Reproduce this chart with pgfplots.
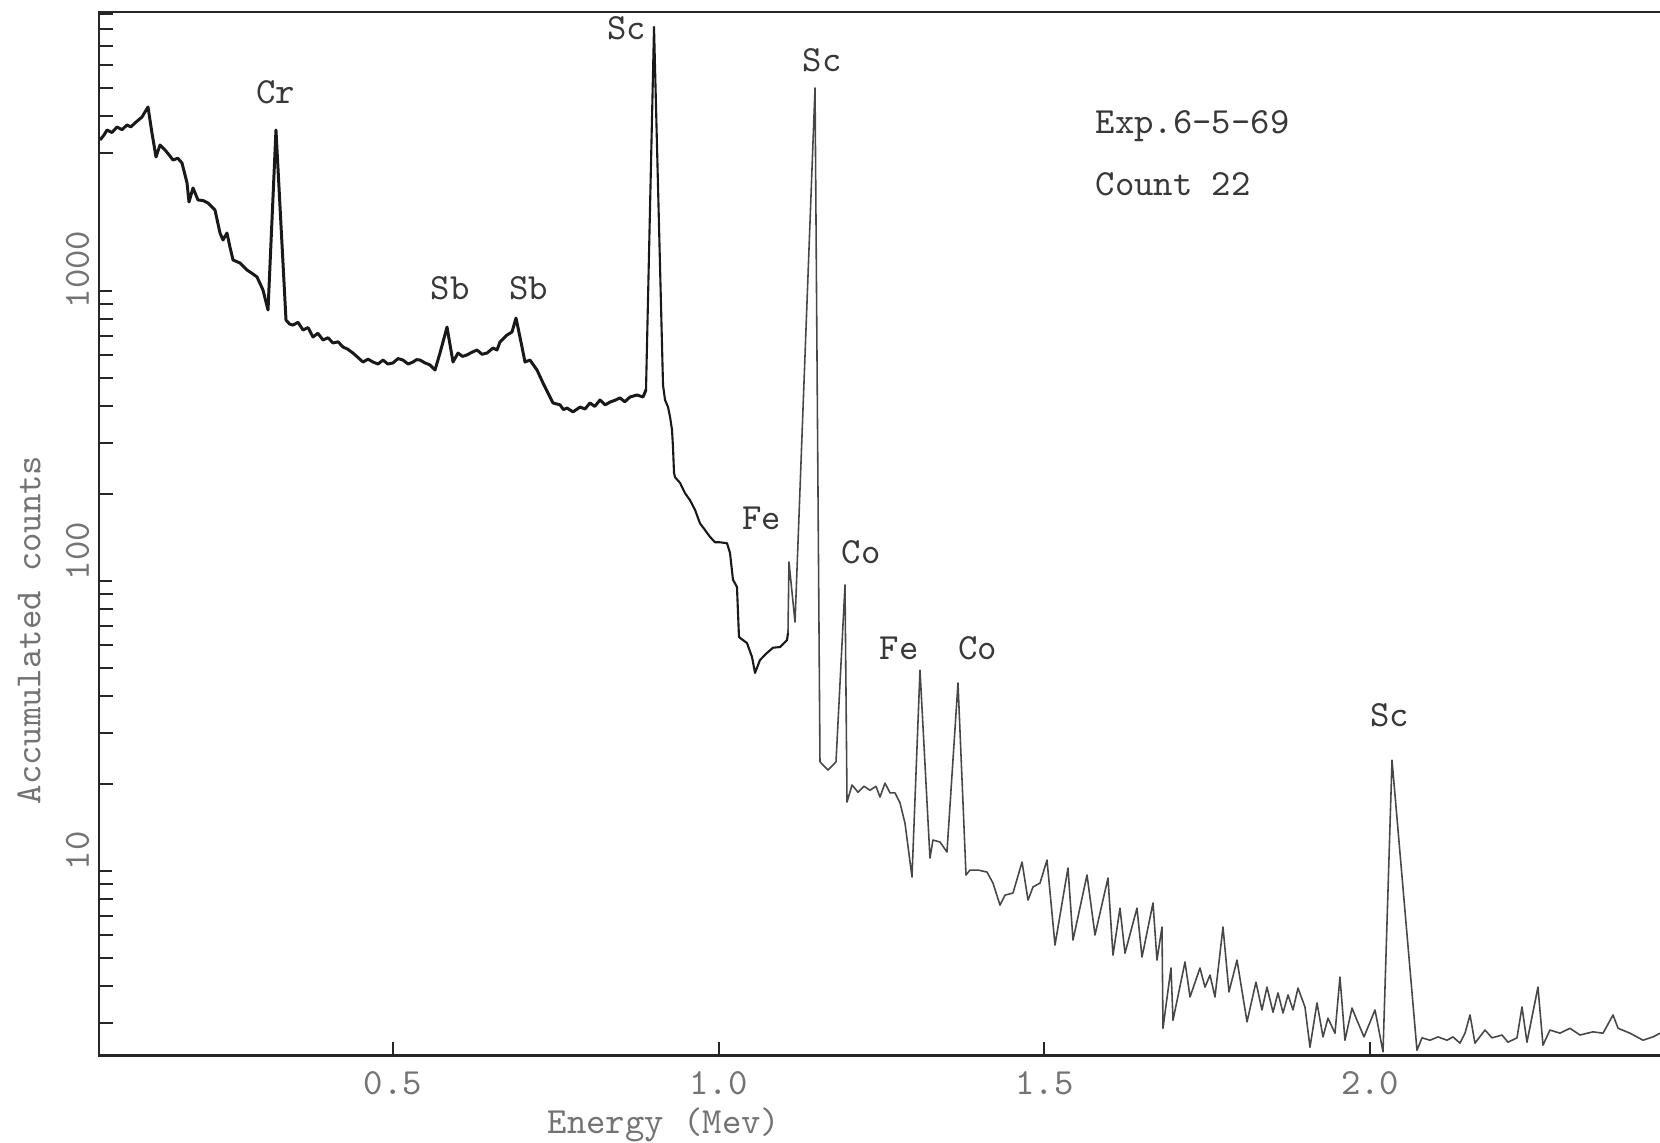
\documentclass[border=0pt]{standalone}
\usepackage{fontspec}
\usepackage{pgfplots}
\pgfplotsset{compat=1.18}

% typewriter face, as on the original plotter sheet
\newcommand\tw{\ttfamily\fontsize{10.5pt}{12pt}\selectfont}
\definecolor{ink}{gray}{0.15}
\definecolor{trace}{gray}{0.10}
\definecolor{labelgray}{gray}{0.45}
\definecolor{notegray}{gray}{0.22}
\tikzset{note/.style={font=\tw, text=notegray, inner sep=0pt, anchor=center}}

\begin{document}
\begin{tikzpicture}
\useasboundingbox (-9.9mm,-8.7mm) rectangle (156.1mm,105.5mm);
\begin{axis}[
  at={(0,0)}, anchor=south west,
  scale only axis, width=156.1mm, height=104.3mm,
  xmin=0.0491, xmax=2.4448,
  ymode=log, ymin=2.321, ymax=9162,
  axis line style={draw=none},
  xtick pos=bottom, ytick pos=left,
  tick align=inside,
  major tick length=1.3mm, minor tick length=1.4mm,
  tick style={line width=0.55pt, ink},
  xtick={0.5,1.0,1.5,2.0},
  xticklabels={0.5,1.0,1.5,2.0},
  ytick={10,100,1000},
  yticklabels={10,100,\hspace*{-1.8mm}1000},
  minor ytick={3,4,5,6,7,8,9,20,30,40,50,60,70,80,90,200,300,400,500,600,700,800,900,3000,4000,5000,6000,7000,8000,9000},
  xticklabel style={font=\tw, text=labelgray, anchor=north, inner sep=0pt},
  xticklabel shift=1.6mm,
  yticklabel style={font=\tw, text=labelgray, rotate=90, anchor=south west, inner sep=0pt},
  yticklabel shift=0.9mm,
  xlabel={Energy (Mev)},
  ylabel={Accumulated counts},
  xlabel style={font=\tw, text=labelgray, at={(rel axis cs:0.3619,-0.0671)}, anchor=center},
  ylabel style={font=\tw, text=labelgray, at={(rel axis cs:-0.0448,0.4075)}, anchor=center},
]

% low-energy part of the spectrum, drawn with the heavier pen
\addplot[line width=0.85pt, trace, line join=round, mark=none] table {
0.0506 3317
0.0568 3450
0.0614 3591
0.0690 3520
0.0767 3677
0.0845 3600
0.0921 3737
0.0980 3680
0.1043 3796
0.1151 3981
0.1243 4310
0.1304 3506
0.1366 2898
0.1427 3187
0.1504 3063
0.1565 2950
0.1627 2829
0.1700 2870
0.1765 2763
0.1842 2358
0.1872 2027
0.1934 2266
0.2010 2060
0.2090 2050
0.2164 2011
0.2271 1903
0.2348 1585
0.2394 1499
0.2455 1585
0.2501 1418
0.2548 1279
0.2655 1249
0.2762 1182
0.2840 1150
0.2916 1118
0.3008 1008
0.3085 860
0.3207 3591
0.3361 794
0.3415 770
0.3468 763
0.3545 780
0.3622 734
0.3700 748
0.3775 694
0.3850 715
0.3929 678
0.4005 690
0.4082 662
0.4160 668
0.4235 641
0.4310 630
0.4389 611
0.4465 590
0.4543 569
0.4620 582
0.4696 569
0.4773 560
0.4850 578
0.4925 560
0.5003 565
0.5080 585
0.5157 578
0.5235 560
0.5310 569
0.5365 580
0.5418 578
0.5495 565
0.5571 556
0.5648 534
0.5724 611
0.5832 751
0.5924 569
0.6001 611
0.6070 595
0.6139 602
0.6215 615
0.6292 626
0.6370 605
0.6446 611
0.6538 636
0.6599 626
0.6645 667
0.6753 705
0.6829 722
0.6891 807
0.6983 641
0.7029 569
0.7105 578
0.7213 534
0.7305 482
0.7382 445
0.7459 411
0.7566 405
0.7620 390
0.7673 395
0.7766 383
0.7873 398
0.7950 392
0.8026 411
0.8100 400
0.8180 421
0.8260 405
0.8333 414
0.8410 420
0.8487 428
0.8560 415
0.8640 431
0.8748 438
0.8840 431
0.8886 456
};

% first Sc line and the steep fall to the Fe region
\addplot[line width=0.6pt, trace, line join=round, mark=none] table {
0.8886 456
0.9009 8134
0.9147 474
0.9178 421
0.9224 398
0.9255 368
0.9285 332
0.9300 290
0.9316 236
0.9331 228
0.9408 218
0.9484 201
0.9561 190
0.9638 176
0.9715 158
0.9791 150
0.9868 142
0.9945 136
1.0021 136
1.0129 135
1.0175 125
1.0221 101
1.0282 95.4
1.0298 77.6
1.0313 64.1
1.0436 61.1
1.0513 54.7
1.0559 48.2
1.0635 53.4
1.0743 56.5
1.0835 58.9
1.0942 59.2
1.1050 62.6
1.1065 66.2
};

% high-energy part, lighter pen
\addplot[line width=0.45pt, black!72, line join=round, mark=none] table {
1.1065 66.2
1.1080 116.3
1.1173 72.2
1.1480 5012
1.1556 23.8
1.1679 22.3
1.1802 23.8
1.1940 96.9
1.1971 17.3
1.2048 19.8
1.2140 18.7
1.2232 19.6
1.2324 19.0
1.2416 19.6
1.2477 18.0
1.2554 20.1
1.2631 18.6
1.2707 18.6
1.2784 17.2
1.2861 14.6
1.2968 9.54
1.3091 49.3
1.3244 11.09
1.3290 12.79
1.3398 12.59
1.3505 11.63
1.3674 44.5
1.3797 9.69
1.3858 10.08
1.3981 10.08
1.4119 9.92
1.4211 9.09
1.4319 7.63
1.4396 8.26
1.4518 8.40
1.4657 10.74
1.4749 7.94
1.4825 8.81
1.4933 9.09
1.5040 10.91
1.5163 5.56
1.5362 10.24
1.5439 5.78
1.5654 9.69
1.5777 6.02
1.5976 9.46
1.6053 5.13
1.6160 7.45
1.6237 5.21
1.6421 7.45
1.6498 5.05
1.6667 7.76
1.6728 4.93
1.6805 6.41
1.6820 2.87
1.6943 4.63
1.6974 3.06
1.7158 4.86
1.7235 3.68
1.7388 4.63
1.7465 3.98
1.7542 4.38
1.7618 3.68
1.7741 6.41
1.7833 3.83
1.7956 4.93
1.8110 3.02
1.8247 4.14
1.8339 3.32
1.8416 3.98
1.8509 3.26
1.8585 3.80
1.8662 3.24
1.8739 3.74
1.8815 3.32
1.8892 3.95
1.8999 3.40
1.9076 2.47
1.9184 3.51
1.9276 2.68
1.9352 3.11
1.9460 2.76
1.9536 4.31
1.9613 2.61
1.9721 3.37
1.9797 3.06
1.9905 2.68
2.0074 3.32
2.0197 2.38
2.0335 24.1
2.0718 2.41
2.0795 2.66
2.0918 2.61
2.1041 2.68
2.1179 2.61
2.1271 2.68
2.1378 2.55
2.1455 2.76
2.1532 3.19
2.1608 2.55
2.1762 2.83
2.1869 2.66
2.2023 2.72
2.2115 2.57
2.2253 2.66
2.2330 3.40
2.2406 2.57
2.2575 3.98
2.2652 2.51
2.2759 2.83
2.2913 2.76
2.3066 2.87
2.3220 2.72
2.3419 2.79
2.3573 2.76
2.3727 3.19
2.3804 2.87
2.3988 2.76
2.4187 2.61
2.4341 2.68
2.4448 2.76
};

% line identifications
\node[note] at (axis cs:0.3207,4857) {Cr};
\node[note] at (axis cs:0.5878,1024) {Sb};
\node[note] at (axis cs:0.7090,1024) {Sb};
\node[note] at (axis cs:0.8594,8070) {Sc};
\node[note] at (axis cs:1.1587,6260) {Sc};
\node[note] at (axis cs:1.0666,165) {Fe};
\node[note] at (axis cs:1.2186,126) {Co};
\node[note] at (axis cs:1.2769,58.7) {Fe};
\node[note] at (axis cs:1.3981,58.7) {Co};
\node[note] at (axis cs:2.0304,34.5) {Sc};
\node[note, anchor=west] at (axis cs:1.5777,3707) {Exp.6-5-69};
\node[note, anchor=west] at (axis cs:1.5777,2339) {Count 22};
\end{axis}

% frame: top, left and bottom edges only
\draw[line width=0.85pt, ink, line cap=rect]
  (156.1mm,104.3mm) -- (0,104.3mm) -- (0,0) -- (156.1mm,0);
\end{tikzpicture}
\end{document}
